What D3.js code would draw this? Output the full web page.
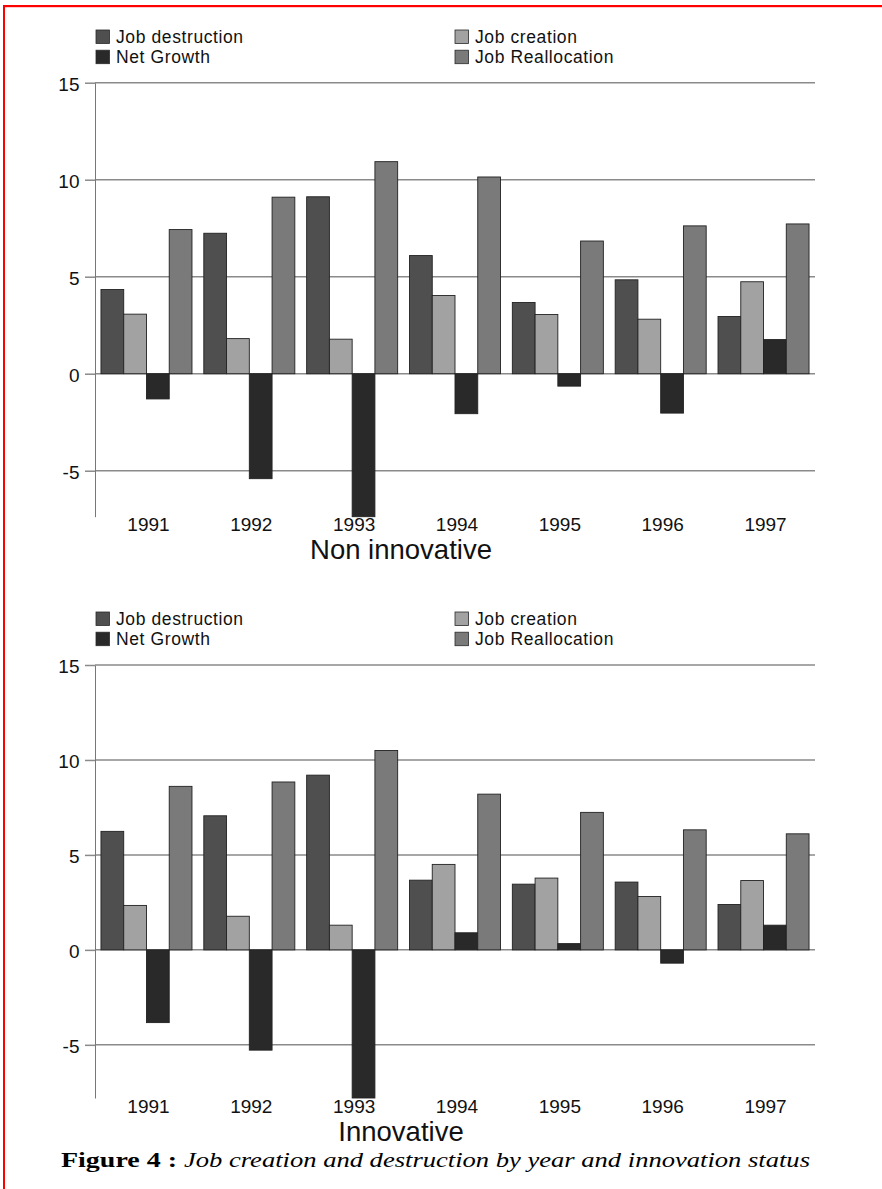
<!DOCTYPE html>
<html>
<head>
<meta charset="utf-8">
<script src="https://cdn.jsdelivr.net/npm/d3@7"></script>
<style>
  html, body { margin: 0; padding: 0; background: #fff; }
  svg { display: block; }
  .sans { font-family: "Liberation Sans", Arial, Helvetica, sans-serif; }
  .serif { font-family: "Liberation Serif", "DejaVu Serif", serif; }
</style>
</head>
<body>
<svg id="chart" width="882" height="1189"></svg>
<script>
// ---- Data ----
const years = ["1991", "1992", "1993", "1994", "1995", "1996", "1997"];
const seriesNames = ["Job destruction", "Job creation", "Net Growth", "Job Reallocation"];
const yTickValues = [-5, 0, 5, 10, 15];

// Non innovative
const nonInnovDestruction = [4.34, 7.24, 9.12, 6.09, 3.67, 4.84, 2.95];
const nonInnovCreation    = [3.07, 1.81, 1.78, 4.03, 3.05, 2.81, 4.74];
const nonInnovNetGrowth   = [-1.30, -5.41, -7.37, -2.06, -0.64, -2.03, 1.76];
const nonInnovRealloc     = [7.43, 9.10, 10.93, 10.14, 6.84, 7.62, 7.72];

// Innovative
const innovDestruction = [6.24, 7.06, 9.20, 3.67, 3.46, 3.57, 2.39];
const innovCreation    = [2.34, 1.77, 1.30, 4.50, 3.78, 2.81, 3.65];
const innovNetGrowth   = [-3.83, -5.28, -7.80, 0.90, 0.33, -0.70, 1.30];
const innovRealloc     = [8.61, 8.84, 10.50, 8.20, 7.24, 6.32, 6.11];

const panelTitles = ["Non innovative", "Innovative"];
const captionBold = "Figure 4 :";
const captionItalic = "Job creation and destruction by year and innovation status";

// ---- Styles ----
const fills = {
  "Job destruction": "#4f4f4f",
  "Job creation": "#a2a2a2",
  "Net Growth": "#292929",
  "Job Reallocation": "#7a7a7a"
};

const svg = d3.select("#chart");

// red frame (top + left)
svg.append("rect").attr("x", 3).attr("y", 5).attr("width", 879).attr("height", 2.2).attr("fill", "#ff0000");
svg.append("rect").attr("x", 3).attr("y", 5).attr("width", 2).attr("height", 1184).attr("fill", "#ff0000");

function buildRows(d, c, n, r) {
  return years.map((y, i) => ({
    year: y,
    values: [
      { key: "Job destruction", v: d[i] },
      { key: "Job creation", v: c[i] },
      { key: "Net Growth", v: n[i] },
      { key: "Job Reallocation", v: r[i] }
    ]
  }));
}

const panels = [
  { rows: buildRows(nonInnovDestruction, nonInnovCreation, nonInnovNetGrowth, nonInnovRealloc),
    ng: nonInnovNetGrowth, top: 82.7, bottom: 516.7, dy: 0, title: panelTitles[0] },
  { rows: buildRows(innovDestruction, innovCreation, innovNetGrowth, innovRealloc),
    ng: innovNetGrowth, top: 665, bottom: 1098, dy: 582, title: panelTitles[1] }
];

const left = 95, right = 815;

panels.forEach(p => {
  const g = svg.append("g").attr("class", "sans");

  const y = d3.scaleLinear().domain([d3.min(p.ng), 15]).range([p.bottom, p.top]);
  const x0 = d3.scaleBand().domain(years).range([left, right]).paddingInner(0.115).paddingOuter(0.058);
  const x1 = d3.scaleBand().domain(seriesNames).range([0, x0.bandwidth()]).padding(0);

  // legend
  const legendItems = [
    { name: "Job destruction", x: 96, row: 0 },
    { name: "Job creation", x: 455, row: 0 },
    { name: "Net Growth", x: 96, row: 1 },
    { name: "Job Reallocation", x: 455, row: 1 }
  ];
  const lg = g.append("g");
  legendItems.forEach(it => {
    const yy = 30 + p.dy + it.row * 20.2;
    lg.append("rect").attr("x", it.x).attr("y", yy).attr("width", 13.5).attr("height", 13.5)
      .attr("fill", fills[it.name]).attr("stroke", "#2a2a2a").attr("stroke-width", 0.8);
    lg.append("text").attr("x", it.x + 20).attr("y", yy + 12.5)
      .attr("font-size", 17.5).attr("letter-spacing", 0.6).attr("fill", "#111").text(it.name);
  });

  // gridlines
  g.append("g").selectAll("line").data(yTickValues).join("line")
    .attr("x1", left).attr("x2", right)
    .attr("y1", d => y(d)).attr("y2", d => y(d))
    .attr("stroke", "#8a8a8a").attr("stroke-width", 1.5);

  // y axis
  const axis = g.append("g").attr("transform", `translate(${left},0)`)
    .call(d3.axisLeft(y).tickValues(yTickValues).tickFormat(d => String(d)).tickSize(10).tickSizeOuter(0).tickPadding(5.5));
  axis.attr("font-family", null).attr("font-size", null);
  axis.select(".domain").attr("stroke", "#777").attr("stroke-width", 1);
  axis.selectAll(".tick line").attr("stroke", "#8a8a8a").attr("stroke-width", 1.5);
  axis.selectAll(".tick text").attr("font-size", 19).attr("fill", "#111").attr("dy", "0.4em");

  // bars
  const groups = g.append("g").selectAll("g").data(p.rows).join("g")
    .attr("transform", d => `translate(${x0(d.year)},0)`);
  groups.selectAll("rect").data(d => d.values).join("rect")
    .attr("x", d => x1(d.key))
    .attr("width", x1.bandwidth())
    .attr("y", d => y(Math.max(0, d.v)))
    .attr("height", d => Math.abs(y(d.v) - y(0)))
    .attr("fill", d => fills[d.key])
    .attr("stroke", "#222")
    .attr("stroke-width", 0.9);

  // x labels
  g.append("g").selectAll("text").data(years).join("text")
    .attr("x", d => x0(d) + x0.bandwidth() / 2 + 2)
    .attr("y", 531 + p.dy)
    .attr("text-anchor", "middle")
    .attr("font-size", 19).attr("fill", "#111")
    .text(d => d);

  // panel title
  g.append("text").attr("x", 401).attr("y", 559 + p.dy)
    .attr("text-anchor", "middle").attr("font-size", 27.5).attr("fill", "#111")
    .text(p.title);
});

// caption
const cap = svg.append("text").attr("class", "serif").attr("y", 1167)
  .attr("font-size", 21).attr("fill", "#000");
cap.append("tspan").attr("x", 61).attr("font-weight", "bold")
  .attr("textLength", 116).attr("lengthAdjust", "spacingAndGlyphs").text(captionBold);
cap.append("tspan").attr("x", 184).attr("font-style", "italic")
  .attr("textLength", 626).attr("lengthAdjust", "spacingAndGlyphs").text(captionItalic);
</script>
</body>
</html>
